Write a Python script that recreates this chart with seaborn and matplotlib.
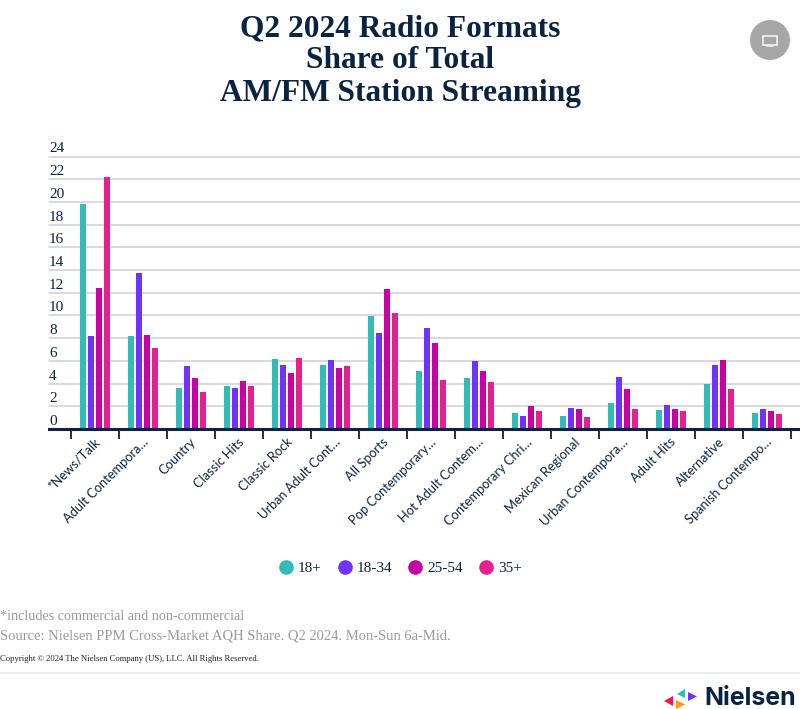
import matplotlib
matplotlib.use("Agg")
import matplotlib.pyplot as plt
import matplotlib.transforms as mtrans
from matplotlib.lines import Line2D
from matplotlib.patches import Circle, Polygon, Rectangle
import pandas as pd
import seaborn as sns

formats = ["*News/Talk", "Adult Contempora…", "Country", "Classic Hits", "Classic Rock",
           "Urban Adult Cont…", "All Sports", "Pop Contemporary…", "Hot Adult Contem…",
           "Contemporary Chri…", "Mexican Regional", "Urban Contempora…", "Adult Hits",
           "Alternative", "Spanish Contempo…"]
ages = ["18+", "18-34", "25-54", "35+"]
a18 = [19.85, 8.15, 3.65, 3.75, 6.15, 5.65, 9.95, 5.15, 4.45, 1.45, 1.15, 2.25, 1.65, 3.95, 1.45]
a1834 = [8.15, 13.7, 5.55, 3.65, 5.65, 6.05, 8.45, 8.9, 5.95, 1.15, 1.85, 4.55, 2.15, 5.6, 1.75]
a2554 = [12.45, 8.3, 4.45, 4.25, 4.95, 5.35, 12.35, 7.6, 5.15, 2.05, 1.75, 3.55, 1.75, 6.1, 1.55]
a35 = [22.2, 7.15, 3.25, 3.75, 6.25, 5.55, 10.25, 4.3, 4.15, 1.55, 1.05, 1.75, 1.55, 3.55, 1.35]
yticks = list(range(0, 26, 2))
colors = ["#33BBB7", "#7033FF", "#C900A6", "#E6208E"]
navy = "#0A2342"

df = pd.DataFrame({"format": formats * 4,
                   "age": [a for a in ages for _ in formats],
                   "share": a18 + a1834 + a2554 + a35})

sns.set_theme(style="white")
plt.rcParams["font.family"] = ["Liberation Serif", "DejaVu Serif"]

W, H = 800, 709
fig = plt.figure(figsize=(W / 100, H / 100), dpi=100)


def fx(x):
    return x / W


def fy(y):
    return 1 - y / H


ax = fig.add_axes([fx(49), fy(429), fx(751), (429 - 156.5) / H])
sns.barplot(data=df, x="format", y="share", hue="age", hue_order=ages, palette=colors,
            width=0.667, gap=0.25, saturation=1, legend=False, ax=ax, zorder=3, linewidth=0)
ax.set_xlim((49 - 95) / 48, (800 - 95) / 48)
ax.set_ylim(0, 24)
ax.set_xlabel("")
ax.set_ylabel("")
sns.despine(ax=ax, left=True, right=True, top=True)
ax.spines["bottom"].set_color(navy)
ax.spines["bottom"].set_linewidth(2.2)
ax.spines["bottom"].set_zorder(6)

ax.set_yticks(yticks)
ax.set_yticklabels([str(v) for v in yticks])
ax.yaxis.grid(True, color="#CBCFDB", linewidth=1.1, zorder=0, clip_on=False)
ax.set_axisbelow(True)
ax.tick_params(axis="y", length=0, pad=0, labelsize=11, labelcolor=navy)
up = mtrans.ScaledTranslation(0, 9 / 100, fig.dpi_scale_trans)
for lab in ax.get_yticklabels():
    lab.set_ha("left")
    lab.set_transform(lab.get_transform() + up)

ax.set_xticks([i - 0.5 for i in range(len(formats) + 1)], minor=True)
ax.tick_params(axis="x", which="minor", length=7, width=1.3, color=navy, bottom=True)
ax.tick_params(axis="x", which="major", length=0, pad=8)
ax.set_xticks(range(len(formats)))
ax.set_xticklabels(formats, rotation=45, ha="right", va="center", rotation_mode="anchor",
                   family="Lato", fontsize=9.3, color=navy)
right = mtrans.ScaledTranslation(3 / 100, 0, fig.dpi_scale_trans)
for lab in ax.get_xticklabels():
    lab.set_transform(lab.get_transform() + right)

for y, line in zip([29, 61, 94], ["Q2 2024 Radio Formats", "Share of Total", "AM/FM Station Streaming"]):
    fig.text(0.5, fy(y), line, ha="center", va="center", fontsize=22.6, color=navy,
             fontweight="bold")

handles = [Line2D([], [], marker="o", linestyle="", color=c, markersize=9.5) for c in colors]
fig.legend(handles, ages, loc="center", bbox_to_anchor=(fx(400), fy(568)), ncol=4, frameon=False,
           fontsize=11, labelcolor=navy, columnspacing=1.0, handletextpad=0.3, handlelength=1)

fig.text(0, fy(617), "*includes commercial and non-commercial", fontsize=10.2, color="#9A9A9A",
         va="center")
fig.text(0, fy(636), "Source: Nielsen PPM Cross-Market AQH Share. Q2 2024. Mon-Sun 6a-Mid.",
         fontsize=10.5, color="#9A9A9A", va="center")
fig.text(0, fy(659), "Copyright © 2024 The Nielsen Company (US), LLC. All Rights Reserved.",
         fontsize=6.25, color="#222222", va="center")
fig.add_artist(Line2D([0, 1], [fy(672.5)] * 2, color="#E8E8EE", lw=1.2))

# viewer button, top right
fig.add_artist(Circle((770, H - 40), 20, transform=None, color="#A6A6A6", lw=0))
fig.add_artist(Rectangle((763, H - 44.5), 14, 9, transform=None, fill=False, ec="#EDEDED", lw=1.3))
fig.add_artist(Line2D([767, 773], [H - 46, H - 46], transform=None, color="#EDEDED", lw=1.2))

# logo
logo = [("#F0144F", [(664, 701), (673, 696), (673, 706)]),
        ("#33BBB7", [(677, 694), (685, 689), (685, 698)]),
        ("#7033FF", [(688, 692), (697, 696.5), (688, 701)]),
        ("#FF9A1F", [(676, 700), (685, 704.5), (676, 709)])]
for c, pts in logo:
    fig.add_artist(Polygon([(x, H - y) for x, y in pts], transform=None, color=c, lw=0))
fig.text(fx(704), fy(698.5), "Nielsen", family="Inter", fontweight="bold", fontsize=18, color=navy,
         va="center")

fig.savefig("out.png", dpi=100)
